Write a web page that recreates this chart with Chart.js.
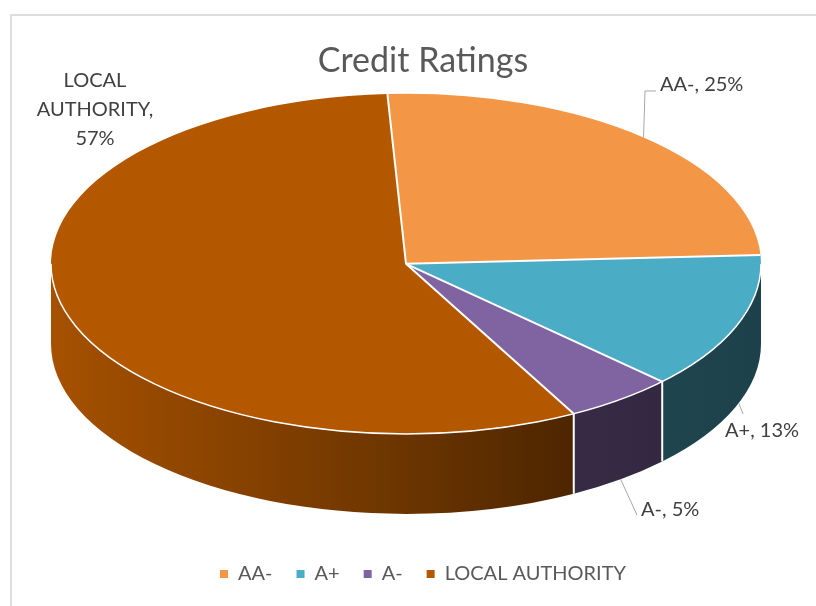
<!DOCTYPE html>
<html lang="en">
<head>
  <meta charset="UTF-8">
  <title>Credit Ratings</title>
  <style>
    html, body { margin: 0; padding: 0; background: #fff; }
    .chart-wrap { position: relative; width: 816px; height: 606px; overflow: hidden; }
    .frame { position: absolute; left: 10px; top: 14px; width: 840px; height: 640px; border: 2px solid #dedede; box-sizing: border-box; }
    #ratings-chart { position: absolute; left: 0; top: 0; }
  </style>
</head>
<body>
  <div class="chart-wrap">
    <div class="frame"></div>
    <canvas id="ratings-chart" width="816" height="606"></canvas>
  </div>

  <script src="https://cdn.jsdelivr.net/npm/chart.js"></script>
  <script>
    const ratings = ['AA-', 'A+', 'A-', 'LOCAL AUTHORITY'];
    const shares = [25, 13, 5, 57];
    const sliceColors = ['#F39646', '#4BACC6', '#8064A2', '#B45800'];

    // look of the fake 3d disc
    const PIE_RX = 355;
    const PIE_DX = -17;
    const TILT = 0.479;
    const DEPTH = 80;
    const sideShade = [[0, 0.92], [0.49, 0.6], [0.745, 0.42], [1, 0.38]];

    // where each data label sits (baseline of first line) and the bend of its leader
    const labelSpots = [
      { x: 660, y: 91, align: 'left', leader: [[645, 91], [656, 91]] },
      { x: 725, y: 437, align: 'left', leader: [[743, 414]] },
      { x: 641, y: 516, align: 'left', leader: [[637, 515]] },
      { x: 95, y: 87, align: 'center', leader: null }
    ];
    const LABEL_LINE = 29;
    const LABEL_MAX_W = 130;

    const total = shares.reduce((s, v) => s + v, 0);

    function shade(hex, f) {
      const n = parseInt(hex.slice(1), 16);
      const r = Math.round(((n >> 16) & 255) * f);
      const g = Math.round(((n >> 8) & 255) * f);
      const b = Math.round((n & 255) * f);
      return `rgb(${r},${g},${b})`;
    }

    function discGeom(chart) {
      const a = chart.chartArea;
      const ry = PIE_RX * TILT;
      return { cx: (a.left + a.right) / 2 + PIE_DX, cy: a.top + ry, rx: PIE_RX, ry };
    }

    function onRim(g, ang, drop) {
      return [g.cx + g.rx * Math.cos(ang), g.cy + g.ry * Math.sin(ang) + (drop || 0)];
    }

    // parts of [s, e] that face the viewer (lower half of the ellipse)
    function frontRanges(s, e) {
      const out = [];
      [-2, 0, 2].forEach(k => {
        const lo = Math.max(s, k * Math.PI);
        const hi = Math.min(e, (k + 1) * Math.PI);
        if (hi > lo) out.push([lo, hi]);
      });
      return out;
    }

    function wrapText(ctx, text, maxW) {
      const words = text.split(' ');
      const lines = [];
      let cur = '';
      words.forEach(w => {
        const test = cur ? cur + ' ' + w : w;
        if (cur && ctx.measureText(test).width > maxW) {
          lines.push(cur);
          cur = w;
        } else {
          cur = test;
        }
      });
      if (cur) lines.push(cur);
      return lines;
    }

    const pie3d = {
      id: 'pie3d',
      beforeDatasetsDraw(chart) {
        const ctx = chart.ctx;
        const g = discGeom(chart);
        const arcs = chart.getDatasetMeta(0).data;

        arcs.forEach((arc, i) => {
          frontRanges(arc.startAngle, arc.endAngle).forEach(([a0, a1]) => {
            const grad = ctx.createLinearGradient(g.cx - g.rx, 0, g.cx + g.rx, 0);
            sideShade.forEach(([t, f]) => grad.addColorStop(t, shade(sliceColors[i], f)));
            ctx.beginPath();
            ctx.ellipse(g.cx, g.cy, g.rx, g.ry, 0, a0, a1);
            ctx.ellipse(g.cx, g.cy + DEPTH, g.rx, g.ry, 0, a1, a0, true);
            ctx.closePath();
            ctx.fillStyle = grad;
            ctx.fill();
          });
        });

        // squash the library's round pie into the tilted top face
        const ref = arcs[0];
        ctx.save();
        ctx.translate(g.cx, g.cy);
        ctx.scale(g.rx / ref.outerRadius, g.ry / ref.outerRadius);
        ctx.translate(-ref.x, -ref.y);
      },
      afterDatasetsDraw(chart) {
        const ctx = chart.ctx;
        ctx.restore();
        const g = discGeom(chart);
        const arcs = chart.getDatasetMeta(0).data;

        // white edges
        ctx.save();
        ctx.strokeStyle = '#ffffff';
        ctx.lineWidth = 1.5;
        ctx.beginPath();
        ctx.ellipse(g.cx, g.cy, g.rx, g.ry, 0, 0, Math.PI);
        ctx.stroke();
        ctx.lineWidth = 2;
        arcs.forEach(arc => {
          const p = onRim(g, arc.startAngle);
          ctx.beginPath();
          ctx.moveTo(g.cx, g.cy);
          ctx.lineTo(p[0], p[1]);
          if (Math.sin(arc.startAngle) > 0.001) {
            ctx.moveTo(p[0], p[1]);
            ctx.lineTo(p[0], p[1] + DEPTH);
          }
          ctx.stroke();
        });
        ctx.restore();

        // data labels
        ctx.save();
        ctx.font = '20px Lato';
        ctx.fillStyle = '#404040';
        ctx.textBaseline = 'alphabetic';
        arcs.forEach((arc, i) => {
          const spot = labelSpots[i];
          const pct = Math.round(shares[i] / total * 100);
          const lines = wrapText(ctx, `${ratings[i]}, ${pct}%`, LABEL_MAX_W);
          ctx.textAlign = spot.align;
          lines.forEach((ln, k) => ctx.fillText(ln, spot.x, spot.y + k * LABEL_LINE));

          if (spot.leader) {
            const mid = (arc.startAngle + arc.endAngle) / 2;
            const start = onRim(g, mid, Math.sin(mid) > 0 ? DEPTH : 0);
            ctx.strokeStyle = '#a6a6a6';
            ctx.lineWidth = 1;
            ctx.beginPath();
            ctx.moveTo(start[0], start[1]);
            spot.leader.forEach(pt => ctx.lineTo(pt[0], pt[1]));
            ctx.stroke();
          }
        });
        ctx.restore();
      }
    };

    Chart.defaults.font.family = 'Lato';

    new Chart(document.getElementById('ratings-chart'), {
      type: 'pie',
      data: {
        labels: ratings,
        datasets: [{
          data: shares,
          backgroundColor: sliceColors,
          borderWidth: 0,
          clip: false
        }]
      },
      options: {
        responsive: false,
        animation: false,
        rotation: -3,
        layout: { padding: { left: 30, right: 0, top: 0, bottom: 12 } },
        plugins: {
          title: {
            display: true,
            text: 'Credit Ratings',
            color: '#595959',
            font: { size: 34, weight: 'normal' },
            padding: { top: 41, bottom: 12 }
          },
          legend: {
            position: 'bottom',
            labels: {
              color: '#595959',
              font: { size: 20 },
              boxWidth: 8,
              boxHeight: 8,
              padding: 24
            }
          },
          tooltip: { enabled: false }
        }
      },
      plugins: [pie3d]
    });
  </script>
</body>
</html>
